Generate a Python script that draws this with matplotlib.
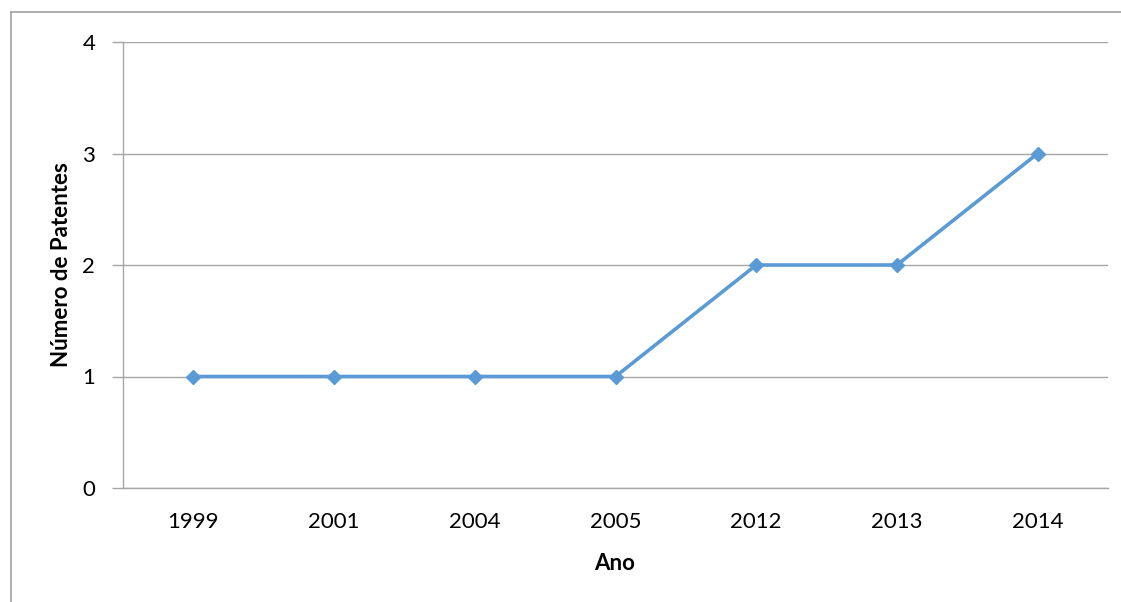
import matplotlib
matplotlib.use("Agg")
import matplotlib.pyplot as plt
from matplotlib.lines import Line2D

anos = ["1999", "2001", "2004", "2005", "2012", "2013", "2014"]
patentes = [1, 1, 1, 1, 2, 2, 3]
y_ticks = [0, 1, 2, 3, 4]

plt.rcParams["font.family"] = ["Lato", "DejaVu Sans"]

W, H = 1121, 602
fig = plt.figure(figsize=(W / 100, H / 100), dpi=100)
ax = fig.add_axes([123 / W, 1 - 488 / H, (1108 - 123) / W, (488 - 42) / H])

grid_c = "#A6A6A6"
fs = 16
x = list(range(len(anos)))
ax.plot(x, patentes, color="#5B9BD5", lw=2.6, marker="D", ms=7.5,
        markerfacecolor="#5B9BD5", markeredgecolor="#5B9BD5", zorder=3)

ax.set_xlim(-0.5, len(anos) - 0.5)
ax.set_ylim(0, 4)
ax.set_yticks(y_ticks)
ax.set_yticklabels([str(v) for v in y_ticks])
ax.set_xticks(x)
ax.set_xticklabels(anos)

ax.yaxis.grid(True, color=grid_c, lw=1)
ax.set_axisbelow(True)
for s in ["top", "right"]:
    ax.spines[s].set_visible(False)
for s in ["left", "bottom"]:
    ax.spines[s].set_color(grid_c)
    ax.spines[s].set_linewidth(1)

ax.tick_params(axis="y", length=8, width=1, color=grid_c, pad=12,
               labelsize=fs, labelcolor="black")
ax.tick_params(axis="x", length=0, pad=17, labelsize=fs, labelcolor="black")

fig.text(615 / W, 1 - 563 / H, "Ano", fontsize=fs, fontweight="bold",
         ha="center", va="center")
fig.text(62 / W, 1 - 265 / H, "Número de Patentes", rotation=90,
         fontsize=fs, fontweight="bold", ha="center", va="center")

# outer chart frame
fig.add_artist(Line2D([11 / W, 11 / W], [0, 1 - 12 / H], color="#A0A0A0",
                      lw=1.2, transform=fig.transFigure))
fig.add_artist(Line2D([11 / W, 1], [1 - 12 / H, 1 - 12 / H], color="#A0A0A0",
                      lw=1.2, transform=fig.transFigure))

fig.savefig("out.png", dpi=100)
